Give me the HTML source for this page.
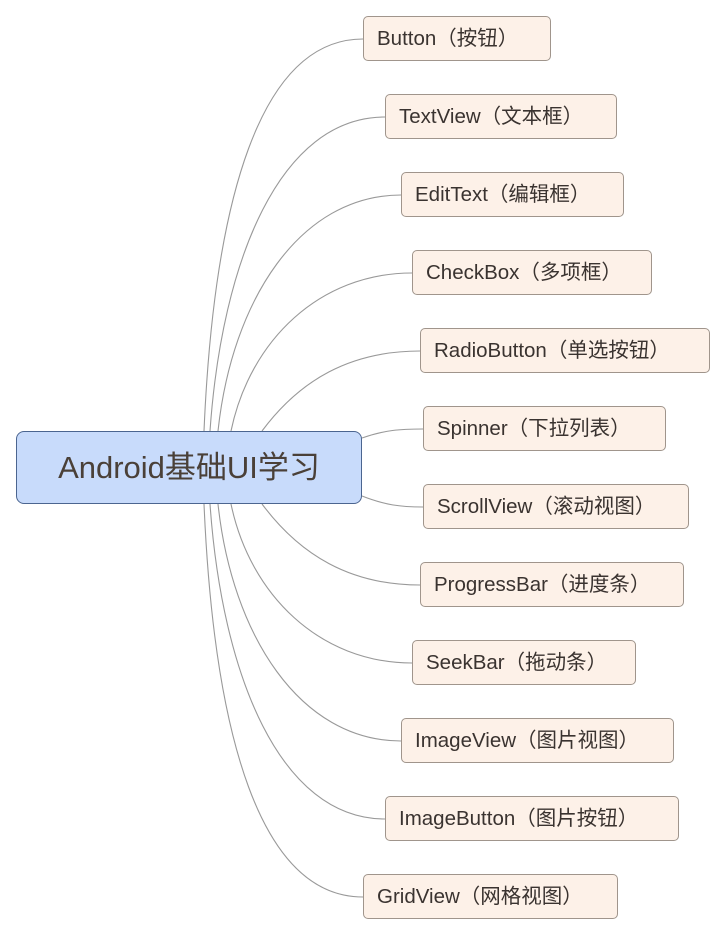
<!DOCTYPE html>
<html><head><meta charset="utf-8"><style>
body{margin:0;width:726px;height:936px;background:#fff;position:relative;overflow:hidden;font-family:"Liberation Sans","Noto Sans CJK SC",sans-serif;}
.n{position:absolute;height:43px;border:1px solid #a0958c;border-radius:5px;background:#fdf1e8;box-sizing:content-box;color:#3a3330;font-size:20.5px;line-height:43px;padding-left:13px;white-space:nowrap;}
.n span{margin:0 3px}
.root{position:absolute;left:16px;top:431px;width:344px;height:71px;border:1px solid #4b6590;border-radius:8px;background:#c8dbfb;color:#4a4038;font-size:31px;line-height:71px;text-align:center;}
svg{position:absolute;left:0;top:0}
</style></head><body>
<svg width="726" height="936" fill="none" stroke="#999" stroke-width="1.1">
<path d="M204 431 C214 200 260 39 363 39"/>
<path d="M210 431 C222 260 280 117 385 117"/>
<path d="M218 431 C232 300 300 195 401 195"/>
<path d="M231 431 C250 340 320 273 412 273"/>
<path d="M262 431 C300 380 350 351 420 351"/>
<path d="M362 438 C385 430 400 429 423 429"/>
<path d="M362 496 C385 505 400 507 423 507"/>
<path d="M262 504 C300 555 350 585 420 585"/>
<path d="M231 504 C250 595 320 663 412 663"/>
<path d="M218 504 C232 635 300 741 401 741"/>
<path d="M210 504 C222 675 280 819 385 819"/>
<path d="M204 504 C214 735 260 897 363 897"/>
</svg>
<div class="root">Android基础UI学习</div>
<div class="n" style="left:363px;top:16px;width:173px">Button（按钮）</div>
<div class="n" style="left:385px;top:94px;width:217px">TextView（文本框）</div>
<div class="n" style="left:401px;top:172px;width:208px">EditText（编辑框）</div>
<div class="n" style="left:412px;top:250px;width:225px">CheckBox（多项框）</div>
<div class="n" style="left:420px;top:328px;width:275px">RadioButton（单选按钮）</div>
<div class="n" style="left:423px;top:406px;width:228px">Spinner（下拉列表）</div>
<div class="n" style="left:423px;top:484px;width:251px">ScrollView（滚动视图）</div>
<div class="n" style="left:420px;top:562px;width:249px">ProgressBar（进度条）</div>
<div class="n" style="left:412px;top:640px;width:209px">SeekBar（拖动条）</div>
<div class="n" style="left:401px;top:718px;width:258px">ImageView（图片视图）</div>
<div class="n" style="left:385px;top:796px;width:279px">ImageButton（图片按钮）</div>
<div class="n" style="left:363px;top:874px;width:240px">GridView（网格视图）</div>
</body></html>
